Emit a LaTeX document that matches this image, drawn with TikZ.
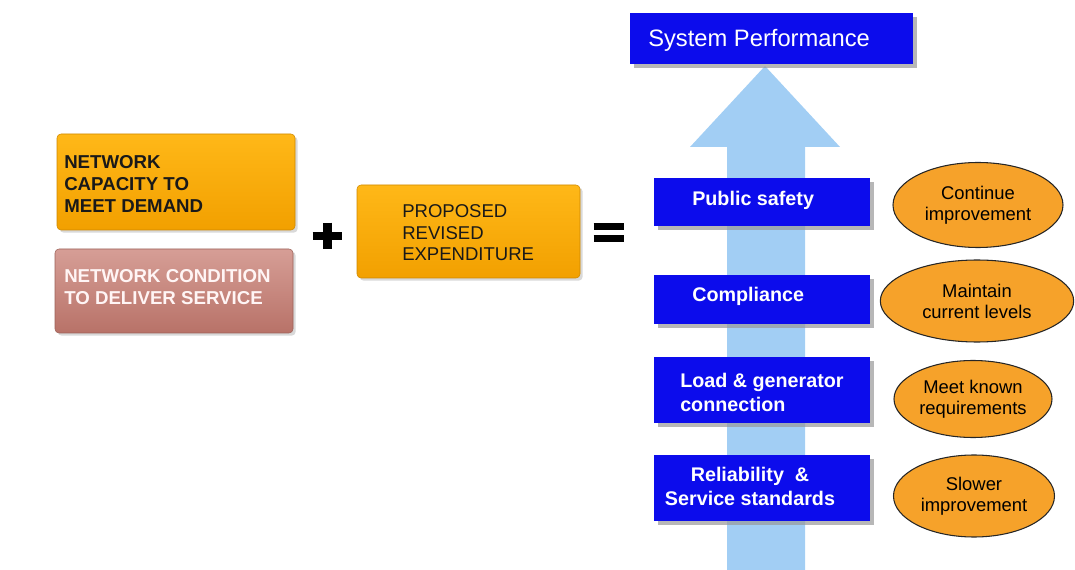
\documentclass[tikz,border=0pt]{standalone}
\usepackage{fontspec}
\setmainfont{Liberation Sans}
\usetikzlibrary{shadows,shapes.geometric}

\definecolor{perfblue}{RGB}{12,12,236}
\definecolor{arrowblue}{RGB}{162,206,244}
\definecolor{ellorange}{RGB}{246,162,42}
\definecolor{capTop}{RGB}{255,184,24}
\definecolor{capBot}{RGB}{242,160,0}
\definecolor{condTop}{RGB}{214,158,150}
\definecolor{condBot}{RGB}{184,114,104}

\tikzset{
  bluebox/.style={draw=none, fill=perfblue, inner sep=0pt,
    drop shadow={shadow xshift=3pt, shadow yshift=-3pt, fill=black!40, opacity=0.7}},
  bluetext/.style={text=white, font=\bfseries\fontsize{14.8}{18.5}\selectfont,
    inner sep=0pt, align=left},
  goalell/.style={ellipse, draw=black!85, line width=0.8pt, fill=ellorange, inner sep=0pt,
    font=\fontsize{13.8}{15.8}\selectfont, align=center},
  inbox/.style={rounded corners=3pt, inner sep=0pt,
    drop shadow={shadow xshift=2pt, shadow yshift=-2pt, fill=black!25, opacity=0.6}},
  capbox/.style={inbox, top color=capTop, bottom color=capBot, draw=capBot!85!black, line width=0.4pt},
  condbox/.style={inbox, top color=condTop, bottom color=condBot, draw=condBot!85!black, line width=0.4pt},
  intext/.style={inner sep=0pt, align=left},
  opmark/.style={inner sep=0pt, draw=none}
}

\begin{document}
\begin{tikzpicture}[x=0.75pt, y=-0.75pt]
\useasboundingbox (0,0) rectangle (1075,570);

% upward arrow behind the stack of objectives
\fill[arrowblue] (765,66) -- (840,147) -- (805,147) -- (805,570)
  -- (727,570) -- (727,147) -- (690,147) -- cycle;

% system performance heading
\node[bluebox, minimum width=212.25pt, minimum height=38.25pt] (sys) at (771.5,38.5) {};
\node[text=white, font=\fontsize{17.8}{20}\selectfont, inner sep=0pt, anchor=west] (systxt) at (648,40) {System Performance};

% objectives
\node[bluebox, minimum width=162pt, minimum height=36pt] (ps) at (762,202) {};
\node[bluetext, anchor=west] (pstxt) at (692,200) {Public safety};

\node[bluebox, minimum width=162pt, minimum height=36.75pt] (comp) at (762,299.5) {};
\node[bluetext, anchor=west] (comptxt) at (692,296) {Compliance};

\node[bluebox, minimum width=162pt, minimum height=49.5pt] (load) at (762,390) {};
\node[bluetext, anchor=west] (loadtxt) at (680,392.5) {Load \& generator\\connection};

\node[bluebox, minimum width=162pt, minimum height=49.5pt] (rel) at (762,488) {};
\node[bluetext, align=center] (reltxt) at (750,486.5) {Reliability~~\&\\Service standards};

% targets
\node[goalell, minimum width=127.5pt, minimum height=63.75pt] (cont) at (978,205) {Continue\\improvement};
\node[goalell, minimum width=145pt, minimum height=61.5pt] (maint) at (977,301) {Maintain\\current levels};
\node[goalell, minimum width=118.5pt, minimum height=57.75pt] (meet) at (973,399) {Meet known\\requirements};
\node[goalell, minimum width=120.75pt, minimum height=61.5pt] (slow) at (974,496) {Slower\\improvement};

% inputs
\node[capbox, minimum width=178.5pt, minimum height=72pt] (cap) at (176,182) {};
\node[intext, anchor=west, font=\bfseries\fontsize{14}{16.5}\selectfont, text=black!90] (captxt) at (64,184)
  {NETWORK\\CAPACITY TO\\MEET DEMAND};

\node[condbox, minimum width=178.5pt, minimum height=63pt] (cond) at (174,291) {};
\node[intext, anchor=west, font=\bfseries\fontsize{14}{17}\selectfont, text=white!96!red] (condtxt) at (64,287)
  {NETWORK CONDITION\\TO DELIVER SERVICE};

\node[capbox, minimum width=167.25pt, minimum height=69.75pt] (prop) at (468.5,231.5) {};
\node[intext, anchor=west, font=\fontsize{13.9}{16.2}\selectfont, text=black!90] (proptxt) at (402,233)
  {PROPOSED\\REVISED\\EXPENDITURE};

% plus and equals signs
\node[opmark, minimum width=21.75pt, minimum height=19.5pt] (plus) at (327.5,236) {};
\draw[line width=6.5pt] (plus.west) -- (plus.east);
\draw[line width=6.5pt] (plus.north) -- (plus.south);

\node[opmark, minimum width=22.5pt, minimum height=9pt] (eq) at (609,232.5) {};
\draw[line width=5pt] (eq.north west) -- (eq.north east);
\draw[line width=5pt] (eq.south west) -- (eq.south east);
\end{tikzpicture}
\end{document}
